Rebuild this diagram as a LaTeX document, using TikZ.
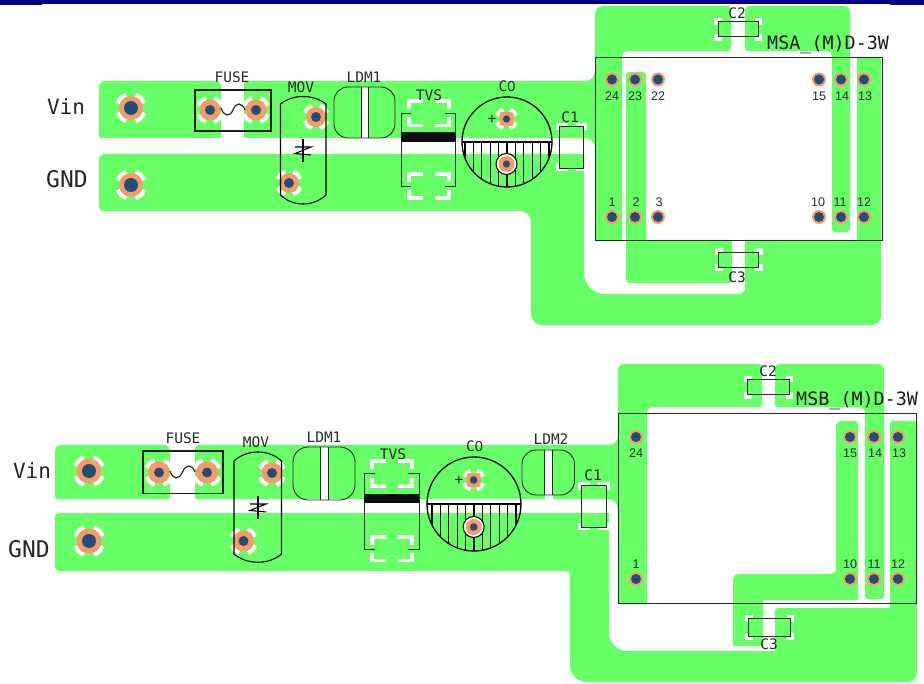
\documentclass[tikz,border=0pt]{standalone}
\usepackage{fontspec}
\setmonofont{DejaVu Sans Mono}
\setsansfont{Liberation Sans}
\usepackage{tikz}

\definecolor{copper}{RGB}{102,255,102}
\definecolor{padring}{RGB}{247,154,104}
\definecolor{padhole}{RGB}{31,78,121}
\definecolor{titlebar}{RGB}{0,0,128}
\definecolor{silk}{RGB}{40,40,40}

\tikzset{
  trace/.style={fill=copper},
  gap/.style={fill=white},
  relief/.style={draw=white,line width=4.2pt},
  padmark/.style={draw=white,line width=3.5pt},
  outline/.style={draw=silk,line width=0.9pt},
  heavy/.style={draw=black!90,line width=1.5pt},
  silklabel/.style={font=\fontsize{14.5}{14}\ttfamily,text=silk,inner sep=0pt},
  biglabel/.style={font=\fontsize{21}{20}\ttfamily,text=black!85,inner sep=0pt},
  gndlabel/.style={font=\fontsize{23}{20}\ttfamily,text=black!85,inner sep=0pt},
  partlabel/.style={font=\fontsize{18.4}{18}\ttfamily,text=black!90,inner sep=0pt},
  pinlabel/.style={font=\fontsize{12.5}{12}\sffamily,text=silk,inner sep=0pt}
}

% x y ring hole
\newcommand{\drillpad}[4]{
  \fill[padring] (#1,#2) circle [radius=#3pt];
  \fill[padhole] (#1,#2) circle [radius=#4pt];
}
% x y radius: four white spokes round a pad
\newcommand{\reliefarcs}[3]{
  \foreach \a in {45,135,225,315}
    \draw[relief] ({#1+#3*cos(\a-25)},{#2-#3*sin(\a-25)}) arc [start angle=\a-25, end angle=\a+25, radius=#3*1pt];
}
% x y ring hole
\newcommand{\reliefpad}[4]{
  \reliefarcs{#1}{#2}{(#3+2)}
  \drillpad{#1}{#2}{#3}{#4}
}
% x1 y1 x2 y2 hlen vlen: white corners round a footprint
\newcommand{\padcorners}[6]{
  \draw[padmark] ({#1+#5},#2) -- (#1,#2) -- (#1,{#2+#6});
  \draw[padmark] ({#3-#5},#2) -- (#3,#2) -- (#3,{#2+#6});
  \draw[padmark] ({#1+#5},#4) -- (#1,#4) -- (#1,{#4-#6});
  \draw[padmark] ({#3-#5},#4) -- (#3,#4) -- (#3,{#4-#6});
}
% x y: the varistor mark
\newcommand{\movmark}[2]{
  \draw[black,line width=1.1pt] (#1,{#2-11}) -- (#1,{#2+12});
  \draw[black,line width=1.1pt] ({#1-8},{#2-3}) -- ({#1+8},{#2-3}) -- ({#1-8},{#2+3.5}) -- ({#1+8},{#2+5});
}
% x y r: the capacitor C0
\newcommand{\capmark}[3]{
  \begin{scope}
    \clip (#1,#2) circle [radius=#3pt];
    \foreach \k in {-5,...,5}
      \draw[black,line width=1.2pt] ({#1+\k*8.4},#2) -- ({#1+\k*8.4},{#2+#3});
  \end{scope}
  \draw[black,line width=1.3pt] (#1,#2) circle [radius=#3pt];
  \draw[black,line width=1.2pt] ({#1-#3},#2) -- ({#1+#3},#2);
  \draw[white,line width=1.6pt] ({#1-#3+1},{#2-1.6}) -- ({#1+#3-1},{#2-1.6});
}

\begin{document}
\begin{tikzpicture}[x=1pt,y=-1pt]
\useasboundingbox (0,0) rectangle (924,684);

\fill[titlebar] (0,0) rectangle (924,4);
\fill[titlebar] (0,0) rectangle (42,5);
\fill[titlebar] (890,0) rectangle (924,5);

%% first module
\fill[trace,rounded corners=6pt] (99,81) -- (221,81) [rounded corners=2pt] -- (221,138) -- (99,138) [rounded corners=6pt] -- cycle;
\fill[trace] (244,84) [rounded corners=3pt] -- (244,81) [rounded corners=10pt] -- (595,81) [rounded corners=8pt] -- (595,6) [rounded corners=3pt] -- (731,6) -- (731,51) [rounded corners=6pt] -- (622,51) [sharp corners] -- (622,240) -- (595,240) [rounded corners=10pt] -- (595,138) [rounded corners=2pt] -- (244,138) -- cycle;
\fill[trace] (745,14) [rounded corners=4pt] -- (745,6) [rounded corners=6pt] -- (850,6) [rounded corners=3pt] -- (850,232) -- (832,232) [rounded corners=5pt] -- (832,51) [rounded corners=3pt] -- (745,51) -- cycle;
\fill[trace,rounded corners=3pt] (626,72) -- (646,72) [sharp corners] -- (646,240) -- (732,240) [rounded corners=3pt] -- (732,283) -- (626,283) -- cycle;
\fill[trace] (99,160) [rounded corners=6pt] -- (99,154) [sharp corners] -- (584,154) [rounded corners=21pt] -- (584,294) [rounded corners=6pt] -- (745,294) [sharp corners] -- (745,240) -- (857,240) -- (857,57) -- (881,57) [rounded corners=9pt] -- (881,325) [rounded corners=11pt] -- (531,325) -- (531,211) [rounded corners=4pt] -- (99,211) -- cycle;
\fill[gap] (361,87) rectangle (368,138);

%% second module
\fill[trace,rounded corners=6pt] (55,445) -- (170,445) [rounded corners=2pt] -- (170,499) -- (55,499) [rounded corners=6pt] -- cycle;
\fill[trace] (195,450) [rounded corners=4pt] -- (195,445) [rounded corners=9pt] -- (618,445) [rounded corners=6pt] -- (618,364) [rounded corners=3pt] -- (762,364) -- (762,407) [rounded corners=6pt] -- (647,407) [sharp corners] -- (647,603) -- (618,603) [rounded corners=10pt] -- (618,499) [rounded corners=2pt] -- (195,499) -- cycle;
\fill[trace] (775,370) [rounded corners=4pt] -- (775,364) [rounded corners=6pt] -- (884,364) [rounded corners=3pt] -- (884,599) -- (865,599) [rounded corners=6pt] -- (865,407) [rounded corners=3pt] -- (775,407) -- cycle;
\fill[trace,rounded corners=3pt] (836,421) -- (858,421) [sharp corners] -- (858,600) -- (763,600) -- (763,646) -- (733,646) [rounded corners=5pt] -- (733,574) -- (836,574) -- cycle;
\fill[trace] (55,519) [rounded corners=4pt] -- (55,513) [sharp corners] -- (609,513) [rounded corners=18pt] -- (609,651) [sharp corners] -- (775,651) [rounded corners=3pt] -- (775,608) [sharp corners] -- (890,608) [rounded corners=3pt] -- (890,421) -- (917,421) [rounded corners=9pt] -- (917,682) [rounded corners=17pt] -- (570,682) [rounded corners=4pt] -- (570,571) -- (55,571) -- cycle;
\fill[gap] (320,447) rectangle (328,500);
\fill[gap] (544.5,450) rectangle (552.5,499);

%% first module parts
\reliefpad{131}{108}{12}{7}
\reliefpad{131}{185}{12}{7}
\draw[heavy] (195,90) rectangle (271,131);
\reliefpad{210}{110}{10.5}{5}
\reliefpad{256}{110}{10.5}{5}
\draw[silk,line width=1.2pt] (221,108) .. controls (224,117) and (230,117) .. (233,110) .. controls (236,102) and (242,102) .. (245,110);
\reliefpad{316}{117}{10}{5}
\reliefpad{289}{183}{10}{5}
\draw[black,line width=1.1pt] (280.5,104) .. controls (293,94) and (313,94) .. (326,104) -- (326,195) .. controls (313,207) and (293,207) .. (280.5,195) -- cycle;
\movmark{303}{150}
\draw[outline,rounded corners=14pt] (334,87) rectangle (395,138);
\draw[outline] (361,87) -- (361,138);
\draw[outline] (368,87) -- (368,138);
\padcorners{409}{101}{449}{125.5}{14}{8}
\padcorners{409}{174}{449}{198}{14}{8}
\draw[outline] (411,113) -- (401,113) -- (401,186) -- (411,186);
\draw[outline] (445,113) -- (455.5,113) -- (455.5,186) -- (445,186);
\fill[black!95] (401,132.5) rectangle (455.5,142);
\capmark{507}{142}{45}
\reliefarcs{506.5}{119}{10}
\fill[padring,rounded corners=2.5pt] (499.5,112) rectangle (513.5,126);
\fill[padhole] (506.5,119) circle [radius=3.6pt];
\fill[white] (506.5,164) circle [radius=10pt];
\draw[black,line width=1pt] (506.5,164) circle [radius=10.5pt];
\drillpad{506.5}{164}{8}{3.6}
\padcorners{557.5}{124.5}{585.5}{169.5}{10}{6}
\draw[outline] (559,126) rectangle (583,168);
\padcorners{716}{20}{760.5}{39}{6}{5}
\draw[outline] (718,21.5) rectangle (758,36.5);
\padcorners{717}{250}{761}{269.5}{6}{5}
\draw[outline] (718,252) rectangle (758,267);
\draw[outline] (595,57) rectangle (882,240);
\foreach \px in {612,635,658,819,841,864} {
  \drillpad{\px}{79.5}{7}{5}
  \drillpad{\px}{217}{7}{5}
}

%% second module parts
\reliefpad{89}{471}{12.5}{7}
\reliefpad{89}{541}{12.5}{7}
\draw[heavy] (143,451) rectangle (223,493.5);
\reliefpad{159}{472.5}{11}{5}
\reliefpad{207}{472.5}{11}{5}
\draw[silk,line width=1.2pt] (170,471) .. controls (173,480) and (179,480) .. (182.5,472) .. controls (186,464) and (192,464) .. (195,472);
\reliefpad{272}{473}{10.5}{5}
\reliefpad{243.5}{541}{10.5}{5}
\draw[black,line width=1.1pt] (234,461) .. controls (247,449) and (269,449) .. (281.5,461) -- (281.5,554) .. controls (269,565) and (247,565) .. (234,554) -- cycle;
\movmark{258}{507}
\draw[outline,rounded corners=15pt] (293,447) rectangle (355,500);
\draw[outline] (320,447) -- (320,500);
\draw[outline] (328,447) -- (328,500);
\padcorners{372}{461}{412}{486}{14}{8}
\padcorners{372}{537}{412}{560.5}{14}{8}
\draw[outline] (375,473) -- (364,473) -- (364,549) -- (375,549);
\draw[outline] (408,473) -- (419,473) -- (419,549) -- (408,549);
\fill[black!95] (364,494) rectangle (419,503);
\capmark{474}{504}{47}
\reliefarcs{473.7}{480}{10}
\fill[padring,rounded corners=2.5pt] (466.7,473) rectangle (480.7,487);
\fill[padhole] (473.7,480) circle [radius=3.8pt];
\fill[white] (473.7,527) circle [radius=10pt];
\draw[black,line width=1pt] (473.7,527) circle [radius=10.5pt];
\drillpad{473.7}{527}{8}{3.8}
\draw[outline,rounded corners=14pt] (522,450) rectangle (574.5,495);
\draw[outline] (544.5,450) -- (544.5,495);
\draw[outline] (552.5,450) -- (552.5,495);
\padcorners{579.5}{483.5}{608}{528.5}{10}{6}
\draw[outline] (581,485) rectangle (606,527);
\padcorners{745.5}{377.5}{791.5}{397}{6}{5}
\draw[outline] (747.5,379) rectangle (789,394.7);
\padcorners{746.5}{616.5}{792.5}{638}{6}{5}
\draw[outline] (748,618) rectangle (790,636);
\draw[outline] (618,413.5) rectangle (916,603);
\foreach \px in {850,874,898} {
  \drillpad{\px}{437}{7}{5}
  \drillpad{\px}{579}{7}{5}
}
\drillpad{636}{437}{7}{5}
\drillpad{636}{579}{7}{5}

%% labels
\node[biglabel] (vinA) at (66,107) {Vin};
\node[gndlabel] (gndA) at (67,179) {GND};
\node[silklabel] (fuseA) at (232,77) {FUSE};
\node[silklabel] (movA) at (301,87) {MOV};
\node[silklabel] (ldmA) at (364,77) {LDM1};
\node[silklabel] (tvsA) at (429,95) {TVS};
\node[silklabel] (coA) at (507,86) {C{\sffamily 0}};
\node[silklabel] (plusA) at (492,119) {+};
\node[silklabel] (cOneA) at (570,117) {C1};
\node[silklabel] (cTwoA) at (737,13) {C2};
\node[silklabel] (cThreeA) at (737,277) {C3};
\node[partlabel,anchor=base west] (partA) at (767,50) {MSA\_(M)D-3W};
\foreach \nm/\px in {24/612,23/635,22/658,15/819,14/842,13/865}
  \node[pinlabel] (pinA\nm) at (\px,96) {\nm};
\foreach \nm/\px in {1/612,2/636,3/659,10/818,11/840,12/864}
  \node[pinlabel] (pinA\nm) at (\px,202) {\nm};

\node[biglabel] (vinB) at (32,471) {Vin};
\node[gndlabel] (gndB) at (29,549) {GND};
\node[silklabel] (fuseB) at (183,438) {FUSE};
\node[silklabel] (movB) at (256,442) {MOV};
\node[silklabel] (ldmB) at (324,437) {LDM1};
\node[silklabel] (tvsB) at (393,454) {TVS};
\node[silklabel] (coB) at (474.5,446) {C{\sffamily 0}};
\node[silklabel] (plusB) at (459,480) {+};
\node[silklabel] (ldmC) at (551,439) {LDM2};
\node[silklabel] (cOneB) at (593,475) {C1};
\node[silklabel] (cTwoB) at (768,371) {C2};
\node[silklabel] (cThreeB) at (769,644) {C3};
\node[partlabel,anchor=base west] (partB) at (796,405.5) {MSB\_(M)D-3W};
\node[pinlabel] (pinB24) at (636,453) {24};
\node[pinlabel] (pinB1) at (636,564) {1};
\foreach \nm/\px in {15/850,14/875,13/899}
  \node[pinlabel] (pinB\nm) at (\px,453) {\nm};
\foreach \nm/\px in {10/850,11/874,12/898}
  \node[pinlabel] (pinB\nm) at (\px,564) {\nm};
\end{tikzpicture}
\end{document}
